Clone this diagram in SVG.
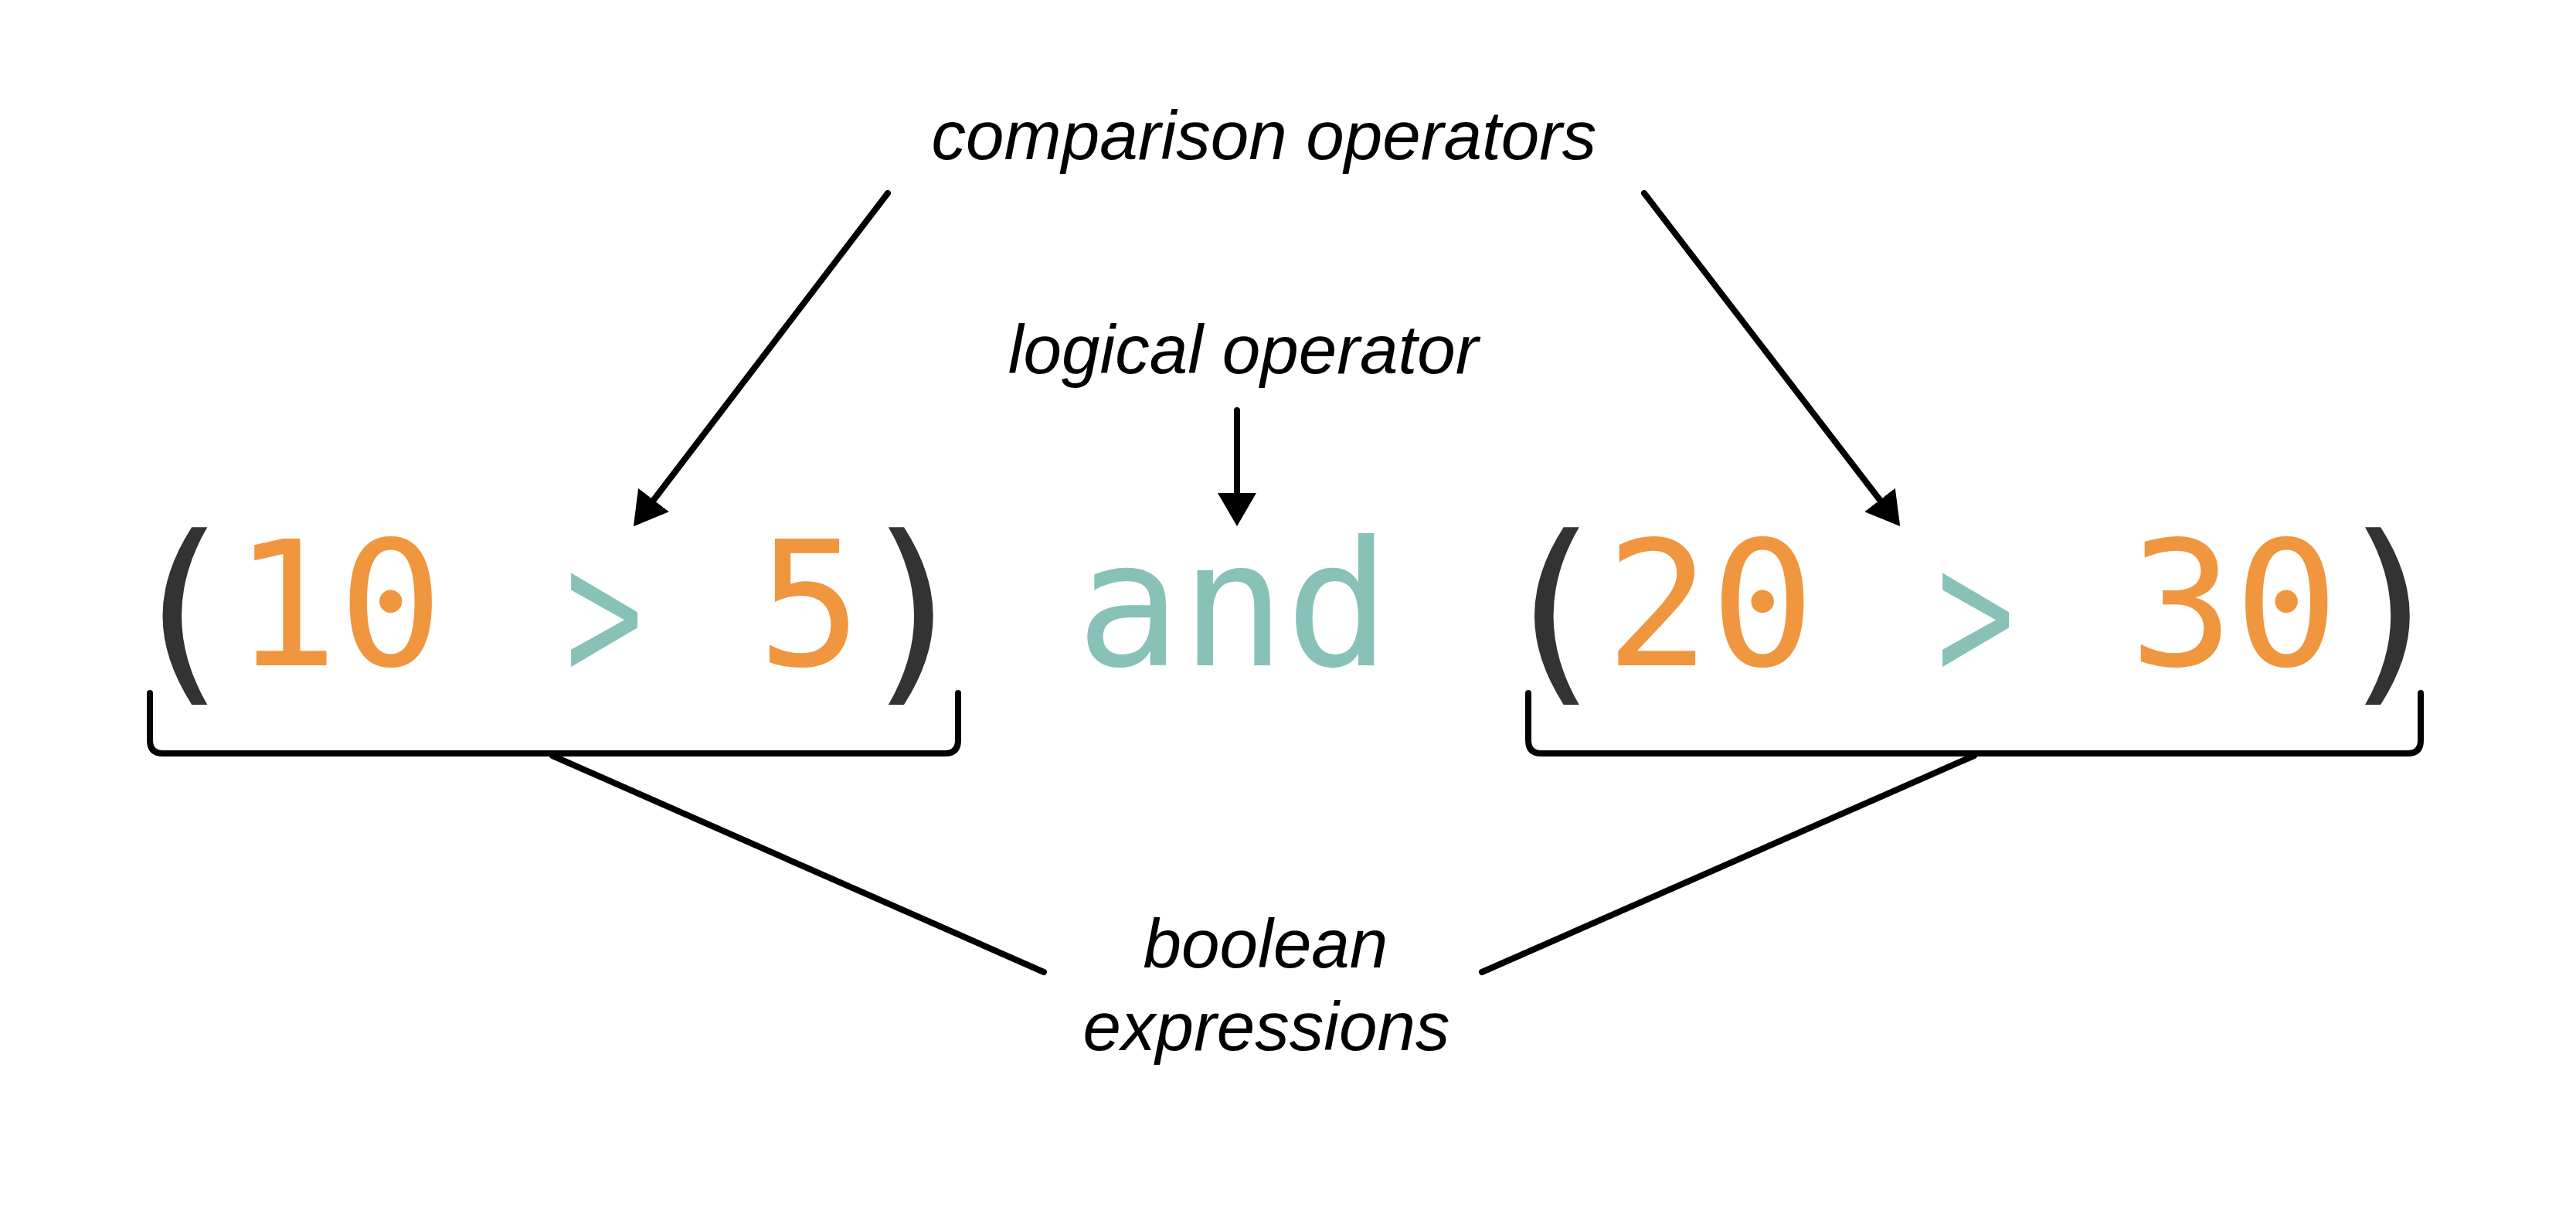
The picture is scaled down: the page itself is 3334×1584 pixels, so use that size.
<svg xmlns="http://www.w3.org/2000/svg" width="3334" height="1584" viewBox="0 0 3334 1584">
<style>
.lbl{font-family:"Liberation Sans",Arial,sans-serif;font-style:italic;font-size:89px;fill:#000;text-anchor:middle}
.code{font-family:"DejaVu Sans Mono","Liberation Mono",monospace;font-size:225px;text-anchor:middle}
.pc{font-size:258px}
.num{fill:#F0963F}
.op{fill:#87C1B8}
.par{fill:#333333}
.ln{fill:none;stroke:#000;stroke-width:8;stroke-linecap:round;stroke-linejoin:round}
</style>
<defs>
<marker id="ah" viewBox="0 0 43 50" refX="0" refY="25" markerWidth="43" markerHeight="50" markerUnits="userSpaceOnUse" orient="auto">
<path d="M0,0 L43,25 L0,50 Z" fill="#000"/>
</marker>
</defs>
<rect width="3334" height="1584" fill="#fff"/>
<g id="label-comparison"><text class="lbl" x="1636" y="206">comparison operators</text></g>
<g id="label-logical"><text class="lbl" x="1609" y="483">logical operator</text></g>
<g id="label-boolean"><text class="lbl" x="1638" y="1252">boolean</text><text class="lbl" x="1639" y="1359">expressions</text></g>
<g id="expr-left">
<text class="code pc par" x="234.5" y="878">(</text>
<text class="code" y="861"><tspan class="num" x="370.1">1</tspan><tspan class="num" x="505.7">0</tspan><tspan class="num" x="1048.1">5</tspan></text>
<text class="code op" transform="translate(782,880) scale(0.74,1.1)">&gt;</text>
<text class="code pc par" x="1183.7" y="878">)</text>
</g>
<g id="op-and"><text class="code op" x="1596" y="861">and</text></g>
<g id="expr-right">
<text class="code pc par" x="2010" y="878">(</text>
<text class="code" y="861"><tspan class="num" x="2145.6">2</tspan><tspan class="num" x="2281.2">0</tspan><tspan class="num" x="2823.6">3</tspan><tspan class="num" x="2959.2">0</tspan></text>
<text class="code op" transform="translate(2557,880) scale(0.74,1.1)">&gt;</text>
<text class="code pc par" x="3094.8" y="878">)</text>
</g>
<g id="bracket-left"><path class="ln" d="M194,897 L194,958 Q194,975 211,975 L1223,975 Q1240,975 1240,958 L1240,897"/></g>
<g id="bracket-right"><path class="ln" d="M1978,897 L1978,958 Q1978,975 1995,975 L3116,975 Q3133,975 3133,958 L3133,897"/></g>
<g id="connectors">
<line class="ln" x1="1149" y1="250" x2="846" y2="647" marker-end="url(#ah)"/>
<line class="ln" x1="2128" y1="250" x2="2433" y2="647" marker-end="url(#ah)"/>
<line class="ln" x1="1601" y1="531" x2="1601" y2="638" marker-end="url(#ah)"/>
<line class="ln" x1="715" y1="978" x2="1351" y2="1258"/>
<line class="ln" x1="2555" y1="978" x2="1918" y2="1258"/>
</g>
</svg>
